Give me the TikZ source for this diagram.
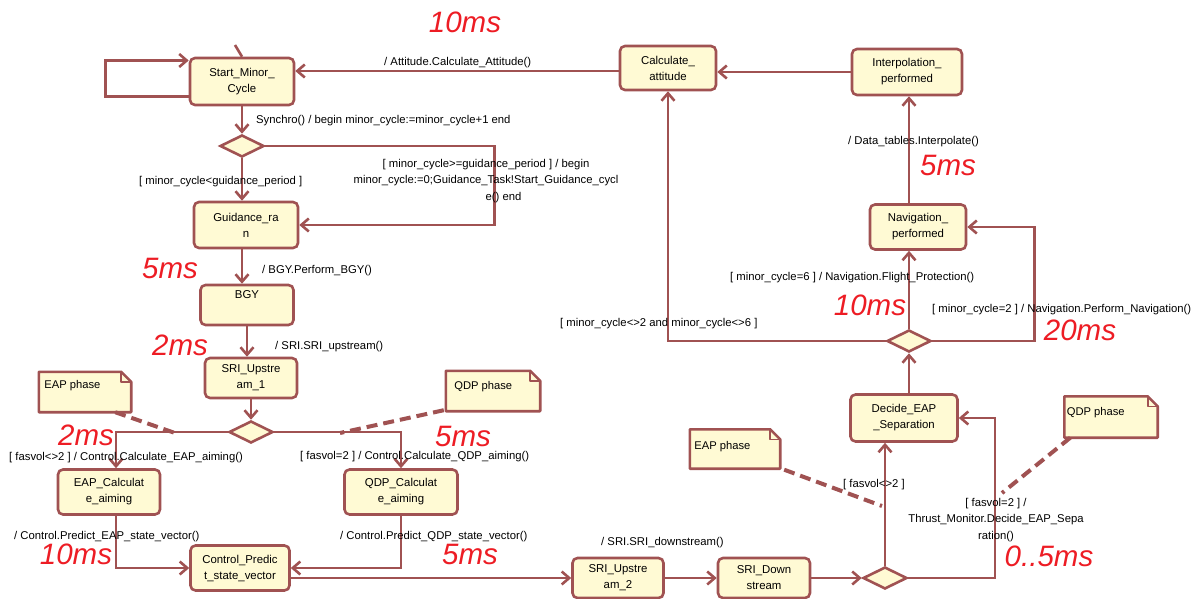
\documentclass[tikz,border=0pt]{standalone}
\usepackage{fontspec}
\setmainfont{Liberation Sans}
\usetikzlibrary{arrows.meta,shapes.geometric}

\definecolor{umlline}{RGB}{160,82,82}
\definecolor{umlfill}{RGB}{255,250,212}
\definecolor{timered}{RGB}{237,28,36}

\tikzset{
  state/.style={draw=umlline, fill=umlfill, line width=2.6pt, rounded corners=5pt,
    align=center, inner sep=0pt, font=\fontsize{11.4}{16}\selectfont},
  choice/.style={diamond, draw=umlline, fill=umlfill, line width=2.6pt,
    minimum width=44pt, minimum height=22pt, inner sep=0pt},
  tr/.style={draw=umlline, line width=2.6pt, -{Straight Barb[length=7.5pt,width=13pt]}},
  wire/.style={draw=umlline, line width=2.6pt},
  notelink/.style={draw=umlline, line width=4pt, dash pattern=on 11pt off 6pt},
  notebox/.style={draw=umlline, fill=umlfill, line width=2.6pt, line join=round},
  notetext/.style={anchor=west, font=\fontsize{11.2}{12}\selectfont},
  guard/.style={font=\fontsize{11.3}{16.5}\selectfont, inner sep=0pt},
  timing/.style={text=timered, font=\fontsize{29.5}{29.5}\selectfont\itshape, inner sep=0pt}
}

\begin{document}
\begin{tikzpicture}[x=1pt,y=-1pt]
\useasboundingbox (0,0) rectangle (1195,599);

% states
\node[state, minimum width=104pt, minimum height=47pt] (start) at (242,81.5) {Start\_Minor\_\\Cycle};
\node[state, minimum width=96pt, minimum height=44pt] (calc) at (668,68) {Calculate\_\\attitude};
\node[state, minimum width=110pt, minimum height=46pt] (interp) at (907,72) {Interpolation\_\\performed};
\node[state, minimum width=104pt, minimum height=46pt] (guid) at (246,225) {Guidance\_ra\\n};
\node[state, minimum width=93pt, minimum height=40pt] (bgy) at (247,305) {BGY\\\strut};
\node[state, minimum width=92pt, minimum height=40pt] (sri1) at (251,378) {SRI\_Upstre\\am\_1};
\node[state, minimum width=102pt, minimum height=45pt] (eap) at (109,492) {EAP\_Calculat\\e\_aiming};
\node[state, minimum width=113pt, minimum height=45pt] (qdp) at (401,492) {QDP\_Calculat\\e\_aiming};
\node[state, minimum width=99pt, minimum height=45pt] (ctrl) at (240,568) {Control\_Predic\\t\_state\_vector};
\node[state, minimum width=91pt, minimum height=40pt] (sri2) at (618,578) {SRI\_Upstre\\am\_2};
\node[state, minimum width=92pt, minimum height=40pt] (sridown) at (764,578) {SRI\_Down\\stream};
\node[state, minimum width=107pt, minimum height=47pt] (decide) at (904,418) {Decide\_EAP\\\_Separation};
\node[state, minimum width=96pt, minimum height=45pt] (nav) at (918,227) {Navigation\_\\performed};

% choice points
\node[choice] (d1) at (242,146) {};
\node[choice] (d2) at (251,432) {};
\node[choice] (d3) at (885,578) {};
\node[choice] (d4) at (909,341) {};

% notes
\node[minimum width=92pt, minimum height=40pt, inner sep=0pt] (eapnote1) at (85,392) {};
\node[minimum width=94pt, minimum height=40pt, inner sep=0pt] (qdpnote1) at (493,391) {};
\node[minimum width=90pt, minimum height=39pt, inner sep=0pt] (eapnote2) at (735,449) {};
\node[minimum width=93pt, minimum height=41pt, inner sep=0pt] (qdpnote2) at (1111,417) {};
\foreach \n in {eapnote1,qdpnote1,eapnote2,qdpnote2}{
  \path[notebox] (\n.north west) -- ([xshift=-10pt]\n.north east) -- ([yshift=-10pt]\n.north east)
    -- (\n.south east) -- (\n.south west) -- cycle;
  \draw[umlline, line width=1.6pt, line join=round] ([xshift=-10pt]\n.north east) -- ([xshift=-10pt,yshift=-10pt]\n.north east)
    -- ([yshift=-10pt]\n.north east);
}
\node[notetext] at ([xshift=2pt,yshift=-14pt]eapnote1.north west) {EAP phase};
\node[notetext] at ([xshift=5pt,yshift=-16pt]qdpnote1.north west) {QDP phase};
\node[notetext] at ([xshift=1pt,yshift=-17pt]eapnote2.north west) {EAP phase};
\node[notetext] at ([xshift=-1pt,yshift=-16pt]qdpnote2.north west) {QDP phase};

% free ends
\coordinate (init) at (235,45);
\coordinate (eaplink1) at (175,433);
\coordinate (qdplink1) at (340,433);
\coordinate (eaplink2) at (882,506);
\coordinate (qdplink2) at (1002,493);

% transitions
\draw[wire] (init) -- (start.north);
\draw[tr] ([yshift=-15pt]start.west) -| ([xshift=-83pt,yshift=21pt]start.west) -- ([yshift=21pt]start.west);
\draw[tr] (interp.west) -- (interp.west -| calc.east);
\draw[tr] ([yshift=-3pt]calc.west) -- ([yshift=-3pt]calc.west -| start.east);
\draw[tr] (start.south) -- (d1.north);
\draw[tr] (d1.south) -- (d1.south |- guid.north);
\draw[tr] (d1.east) -| ([xshift=195pt]guid.east) |- (guid.east);
\draw[tr] (d1.south |- guid.south) -- (d1.south |- bgy.north);
\draw[tr] (bgy.south) -- (bgy.south |- sri1.north);
\draw[tr] (sri1.south) -- (d2.north);
\draw[tr] (d2.west) -| ([xshift=7pt]eap.north);
\draw[tr] (d2.east) -| (qdp.north);
\draw[tr] ([xshift=7pt]eap.south) |- (ctrl.west);
\draw[tr] (qdp.south) |- (ctrl.east);
\draw[tr] ([yshift=-10pt]ctrl.east) -- ([yshift=-10pt]ctrl.east -| sri2.west);
\draw[tr] (sri2.east) -- (sridown.west);
\draw[tr] (sridown.east) -- (d3.west);
\draw[tr] (d3.north) -- (d3.north |- decide.south);
\draw[tr] (d3.east) -| ([xshift=36pt]decide.east) |- (decide.east);
\draw[tr] (d4.south |- decide.north) -- (d4.south);
\draw[tr] (d4.north) -- (d4.north |- nav.south);
\draw[tr] (d4.east) -| ([xshift=67pt]nav.east) |- (nav.east);
\draw[tr] (d4.west) -| (calc.south);
\draw[tr] (d4.north |- nav.north) -- (d4.north |- interp.south);

% note links
\draw[notelink] ([xshift=-16pt]eapnote1.south east) -- (eaplink1);
\draw[notelink] ([xshift=-2pt,yshift=1pt]qdpnote1.south west) -- (qdplink1);
\draw[notelink] ([xshift=4pt,yshift=-1pt]eapnote2.south east) -- (eaplink2);
\draw[notelink] ([xshift=6pt]qdpnote2.south west) -- (qdplink2);

% guards and actions
\node[guard, anchor=west] (l1) at (384,63) {/ Attitude.Calculate\_Attitude()};
\node[guard, anchor=west] (l2) at (256,121) {Synchro() / begin minor\_cycle:=minor\_cycle+1 end};
\node[guard, anchor=west] (l3) at (139,182) {[ minor\_cycle<guidance\_period ]};
\node[guard, align=center] (l4) at (486,181) {[ minor\_cycle>=guidance\_period ] / begin\\minor\_cycle:=0;Guidance\_Task!Start\_Guidance\_cycl\\\hspace*{35pt}e() end};
\node[guard, anchor=west] (l5) at (262,271) {/ BGY.Perform\_BGY()};
\node[guard, anchor=west] (l6) at (275,347) {/ SRI.SRI\_upstream()};
\node[guard, anchor=west] (l7) at (9,458) {[ fasvol<>2 ] / Control.Calculate\_EAP\_aiming()};
\node[guard, anchor=west] (l8) at (300,457) {[ fasvol=2 ] / Control.Calculate\_QDP\_aiming()};
\node[guard, anchor=west] (l9) at (14,537) {/ Control.Predict\_EAP\_state\_vector()};
\node[guard, anchor=west] (l10) at (340,537) {/ Control.Predict\_QDP\_state\_vector()};
\node[guard, anchor=west] (l11) at (601,543) {/ SRI.SRI\_downstream()};
\node[guard, anchor=west] (l12) at (843,485) {[ fasvol<>2 ]};
\node[guard, align=center] (l13) at (996,520) {[ fasvol=2 ] /\\Thrust\_Monitor.Decide\_EAP\_Sepa\\ration()};
\node[guard, anchor=west] (l14) at (730,278) {[ minor\_cycle=6 ] / Navigation.Flight\_Protection()};
\node[guard, anchor=west] (l15) at (932,310) {[ minor\_cycle=2 ] / Navigation.Perform\_Navigation()};
\node[guard, anchor=west] (l16) at (560,324) {[ minor\_cycle<>2 and minor\_cycle<>6 ]};
\node[guard, anchor=west] (l17) at (848,142) {/ Data\_tables.Interpolate()};

% timings
\node[timing] (t1) at (465,22) {10ms};
\node[timing] (t2) at (170,268) {5ms};
\node[timing] (t3) at (180,345) {2ms};
\node[timing] (t4) at (86,435) {2ms};
\node[timing] (t5) at (463,436) {5ms};
\node[timing] (t6) at (76,554) {10ms};
\node[timing] (t7) at (470,554) {5ms};
\node[timing] (t8) at (870,305) {10ms};
\node[timing] (t9) at (1080,330) {20ms};
\node[timing] (t10) at (948,165) {5ms};
\node[timing] (t11) at (1049,556) {0..5ms};

\end{tikzpicture}
\end{document}
